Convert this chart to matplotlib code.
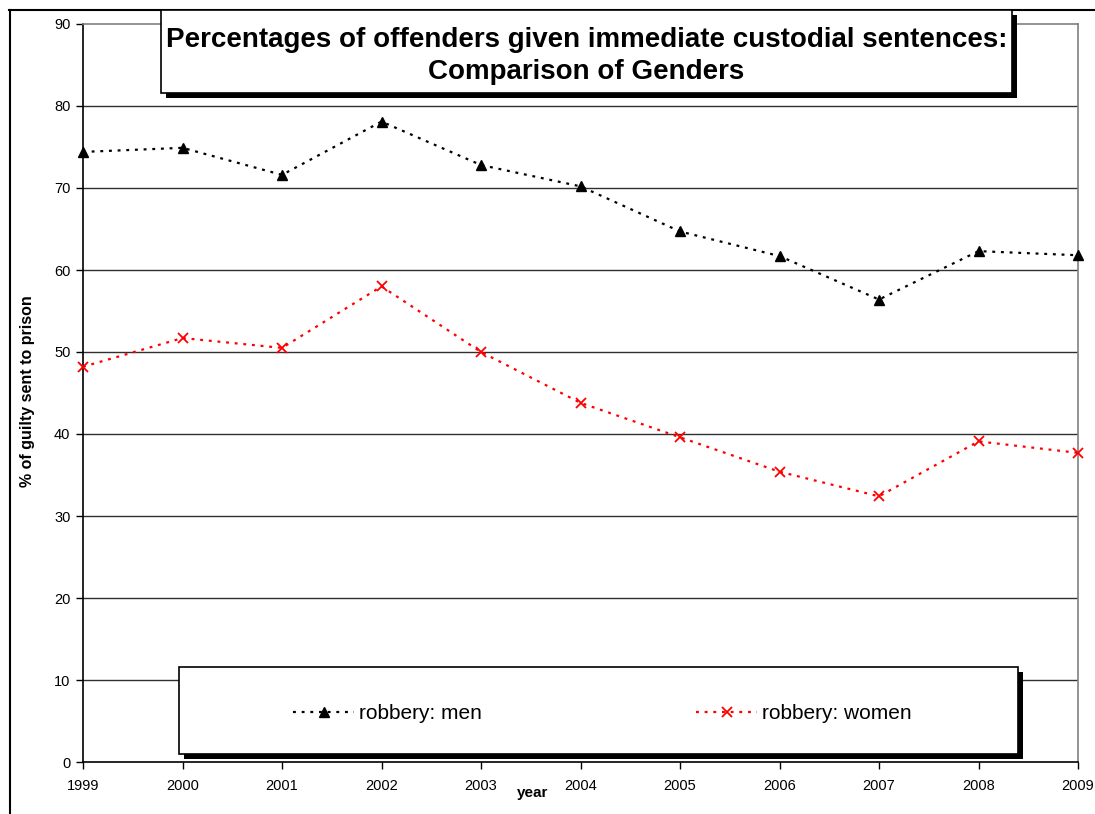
import matplotlib.pyplot as plt
from matplotlib.patches import Rectangle
from matplotlib.lines import Line2D

years = [1999, 2000, 2001, 2002, 2003, 2004, 2005, 2006, 2007, 2008, 2009]
men = [74.4, 74.9, 71.6, 78.1, 72.8, 70.2, 64.7, 61.7, 56.4, 62.3, 61.8]
women = [48.2, 51.7, 50.5, 58.0, 50.0, 43.8, 39.6, 35.4, 32.4, 39.1, 37.7]

plt.rcParams['font.family'] = ['Liberation Sans', 'DejaVu Sans']

W, H = 1095, 814
fig = plt.figure(figsize=(W / 100, H / 100), dpi=100)
ax = fig.add_axes([83 / W, 1 - 762 / H, 995 / W, 738 / H])

# outer chart frame (left and top edges only)
fig.add_artist(Line2D([9.5 / W, 9.5 / W], [0, 1 - 10 / H], color='black', lw=1.5))
fig.add_artist(Line2D([9 / W, 1], [1 - 10 / H, 1 - 10 / H], color='black', lw=1.5))

dots = (0, (1.3, 2.6))
ax.plot(years, men, color='black', lw=1.6, linestyle=dots, marker='^',
        markersize=7.5, label='robbery: men', zorder=3, clip_on=False)
ax.plot(years, women, color='red', lw=1.6, linestyle=dots, marker='x',
        markersize=7, markeredgewidth=1.3, label='robbery: women', zorder=3,
        clip_on=False)

ax.set_xlim(1999, 2009)
ax.set_ylim(0, 90)
ax.set_xticks(years)
ax.set_yticks(range(0, 91, 10))
for y in range(10, 90, 10):
    ax.axhline(y, color='#303030', lw=1, zorder=1)

ax.spines['top'].set_color('#808080')
ax.spines['right'].set_color('#808080')
ax.spines['left'].set_color('black')
ax.spines['bottom'].set_color('black')
for s in ax.spines.values():
    s.set_linewidth(1.2)
ax.tick_params(axis='both', direction='out', length=5, width=1, labelsize=10.5,
               colors='black')
ax.tick_params(axis='x', pad=7)
ax.tick_params(axis='y', pad=4)

ax.set_ylabel('% of guilty sent to prison', fontsize=11.5, fontweight='bold')
ax.yaxis.set_label_coords(-0.048, 0.503)
ax.set_xlabel('year', fontsize=11, fontweight='bold')
ax.xaxis.set_label_coords(0.452, -0.033)

# title box with drop shadow
tx0, tx1, ty0, ty1 = 161, 1012, 10, 93
fig.add_artist(Rectangle(((tx0 + 5) / W, 1 - (ty1 + 5) / H), (tx1 - tx0) / W,
                         (ty1 - ty0) / H, transform=fig.transFigure,
                         facecolor='black', edgecolor='none', zorder=5))
fig.add_artist(Rectangle((tx0 / W, 1 - ty1 / H), (tx1 - tx0) / W, (ty1 - ty0) / H,
                         transform=fig.transFigure, facecolor='white',
                         edgecolor='black', lw=1.2, zorder=6))
fig.text((tx0 + tx1) / 2 / W, 1 - 56 / H,
         'Percentages of offenders given immediate custodial sentences:\nComparison of Genders',
         ha='center', va='center', fontsize=20, fontweight='bold',
         linespacing=1.32, zorder=7)

# legend box with drop shadow
lx0, lx1, ly0, ly1 = 179, 1018, 667, 754
fig.add_artist(Rectangle(((lx0 + 5) / W, 1 - (ly1 + 5) / H), (lx1 - lx0) / W,
                         (ly1 - ly0) / H, transform=fig.transFigure,
                         facecolor='black', edgecolor='none', zorder=5))
fig.add_artist(Rectangle((lx0 / W, 1 - ly1 / H), (lx1 - lx0) / W, (ly1 - ly0) / H,
                         transform=fig.transFigure, facecolor='white',
                         edgecolor='black', lw=1.2, zorder=6))
leg = fig.legend(loc='center', bbox_to_anchor=((lx0 + lx1) / 2 / W + 4 / W,
                                                1 - (ly0 + ly1) / 2 / H - 3 / H),
                 ncol=2, frameon=False, fontsize=15, handlelength=2.9,
                 handletextpad=0.25, columnspacing=10.3)
leg.set_zorder(7)

fig.savefig('out.png', dpi=100)
